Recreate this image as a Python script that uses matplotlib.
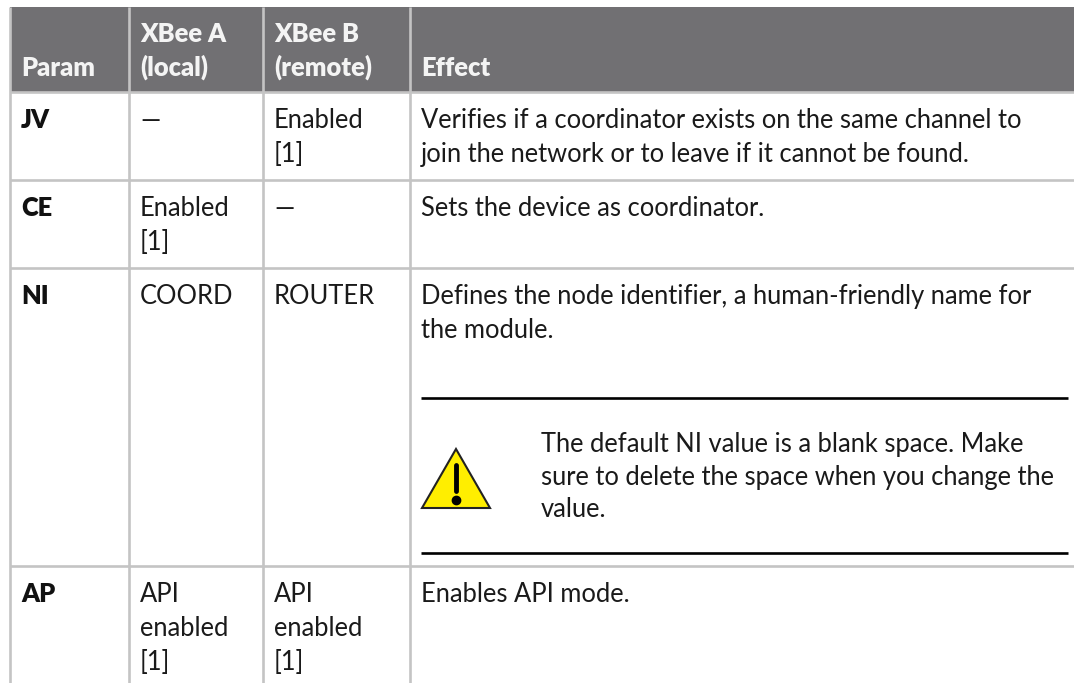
import matplotlib
matplotlib.use('Agg')
import matplotlib.pyplot as plt
from matplotlib.patches import Polygon, Rectangle

plt.rcParams['font.family'] = ['Lato', 'DejaVu Sans']

# table content
headers = ['Param', 'XBee A\n(local)', 'XBee B\n(remote)', 'Effect']
params = ['JV', 'CE', 'NI', 'AP']
xbee_a = ['—', 'Enabled\n[1]', 'COORD', 'API\nenabled\n[1]']
xbee_b = ['Enabled\n[1]', '—', 'ROUTER', 'API\nenabled\n[1]']
effects = ['Verifies if a coordinator exists on the same channel to\njoin the network or to leave if it cannot be found.',
           'Sets the device as coordinator.',
           'Defines the node identifier, a human-friendly name for\nthe module.',
           'Enables API mode.']
note = 'The default NI value is a blank space. Make\nsure to delete the space when you change the\nvalue.'

# layout in pixels
col_x = [10, 129, 263, 410, 1074]
row_y = [92, 180, 268, 566, 683]
header_top = 7
text_x = [21, 140, 274, 421]
grid_col = '#c4c4c4'
fs = 18.4
text_col = '#1a1a1a'


def put(x, y, s, line_h=34, **kw):
    # every line gets its own baseline so the spacing stays fixed
    for n, line in enumerate(s.split('\n')):
        ax.text(x, y + n * line_h, line, fontsize=fs, va='baseline', **kw)


fig = plt.figure(figsize=(10.74, 6.83), dpi=100)
ax = fig.add_axes([0, 0, 1, 1])
ax.set_xlim(0, 1074)
ax.set_ylim(683, 0)
ax.axis('off')

ax.add_patch(Rectangle((col_x[0], header_top), col_x[-1] - col_x[0], row_y[0] - header_top, color='#717073', lw=0))

# grid lines
for x in col_x[:-1]:
    ax.plot([x, x], [header_top, 683], color=grid_col, lw=1.9, solid_capstyle='butt')
for y in row_y[:-1]:
    ax.plot([col_x[0], 1074], [y, y], color=grid_col, lw=1.9, solid_capstyle='butt')

# header
for x, h in zip(text_x, headers):
    put(x, 76 - h.count('\n') * 34, h, color='#f4f4f4', fontweight='heavy')

# body
for i in range(4):
    y = row_y[i] + 36
    put(text_x[0], y, params[i], fontweight='heavy', color='#111111')
    put(text_x[1], y, xbee_a[i], color=text_col)
    put(text_x[2], y, xbee_b[i], color=text_col)
    put(text_x[3], y, effects[i], color=text_col)

# warning note
ax.plot([421, 1068], [398, 398], color='black', lw=1.9, solid_capstyle='butt')
ax.plot([421, 1068], [553, 553], color='black', lw=1.9, solid_capstyle='butt')
ax.add_patch(Polygon([[456, 449], [422, 508], [490, 508]], closed=True, fc='#ffee00', ec='#222222', lw=1.5))
ax.plot([456, 456], [465, 491], color='black', lw=3.5, solid_capstyle='round')
ax.plot([456], [500], 'o', color='black', ms=6)
put(541, 452, note, line_h=32.5, color=text_col)

fig.savefig('out.png', dpi=100)
